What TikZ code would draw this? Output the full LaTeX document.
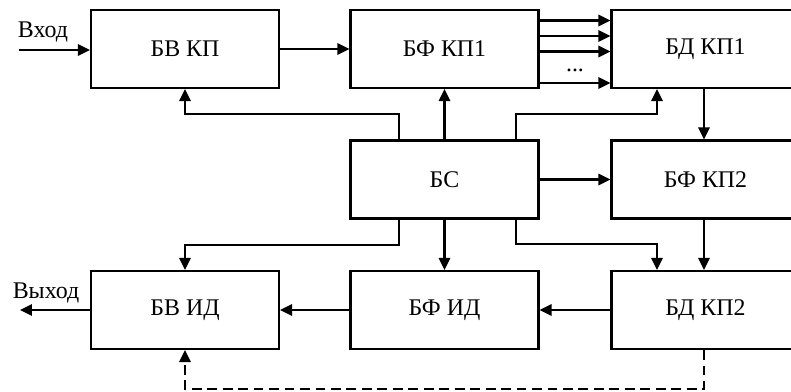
\documentclass[tikz,border=0pt]{standalone}
\usepackage{fontspec}
\setmainfont{Liberation Serif}
\usetikzlibrary{arrows.meta}

\begin{document}
\begin{tikzpicture}[x=0.025cm, y=-0.025cm, line width=1.5pt,
		blok/.style={draw, minimum width=4.7cm, minimum height=1.95cm, font=\fontsize{17}{20}\selectfont},
		lbl/.style={font=\fontsize{17}{20}\selectfont, inner sep=0pt},
		arr/.style={-{Triangle[length=8.5pt, width=8pt]}}]
			\useasboundingbox (0,0) rectangle (791,392);
			
			\node[blok] (BVKP) at (185,49) {БВ КП};
			\node[blok] (BFKP1) at (444.5,49) {БФ КП1};
			\node[blok] (BDKP1) at (705.5,49) {БД КП1};
			\node[blok] (BS) at (444.5,179.5) {БС};
			\node[blok] (BFKP2) at (705.5,179.5) {БФ КП2};
			\node[blok] (BVID) at (185,310) {БВ ИД};
			\node[blok] (BFID) at (444.5,310) {БФ ИД};
			\node[blok] (BDKP2) at (705.5,310) {БД КП2};
			
			\coordinate (In) at (19,50);
			\coordinate (Out) at (20,310);
			\node[lbl, anchor=base] (InTxt) at (43,38) {Вход};
			\node[lbl, anchor=base] (OutTxt) at (46,299) {Выход};
			
			\draw[arr] (In) -- (BVKP.west |- In);
			\draw[arr] (BVKP) -- (BFKP1);
			\foreach \y in {20.5,36,51.5,83}
				\draw[arr] (BFKP1.east |- 0,\y) -- (BDKP1.west |- 0,\y);
			\node[lbl] (Dots) at (575,70) {...};
			
			\draw[arr] (BS.north -| 399,0) -- ++(0,-25) -| (BVKP.south);
			\draw[arr] (BS) -- (BFKP1);
			\draw[arr] (BS.north -| 516,0) -- ++(0,-25) -| (BDKP1.south -| 657,0);
			\draw[arr] (BDKP1.south -| 704,0) -- (BFKP2.north -| 704,0);
			\draw[arr] (BS) -- (BFKP2);
			
			\draw[arr] (BS.south -| 399,0) -- ++(0,25) -| (BVID.north);
			\draw[arr] (BS) -- (BFID);
			\draw[arr] (BS.south -| 516,0) -- ++(0,24) -| (BDKP2.north -| 657,0);
			\draw[arr] (BFKP2.south -| 704,0) -- (BDKP2.north -| 704,0);
			
			\draw[arr] (BDKP2) -- (BFID);
			\draw[arr] (BFID) -- (BVID);
			\draw[arr] (BVID.west) -- (Out);
			
			\draw[arr, dash pattern=on 7pt off 4pt] (BDKP2.south -| 704,0) -- ++(0,39) -| (BVID.south);
		\end{tikzpicture}
\end{document}
